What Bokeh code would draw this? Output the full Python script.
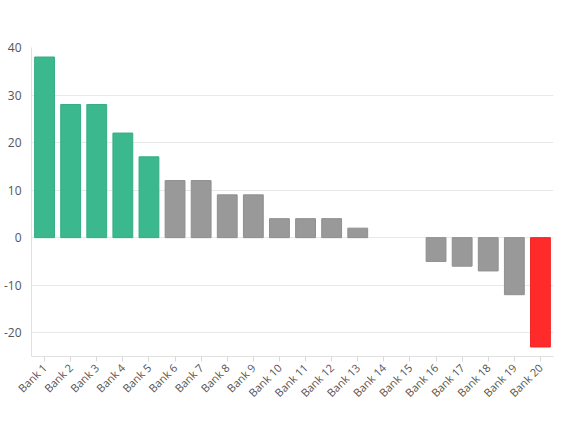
from bokeh.plotting import figure
from bokeh.models import ColumnDataSource, FactorRange, Range1d, FixedTicker
from bokeh.embed import file_html
from bokeh.resources import INLINE
import math

# Data
banks = ["Bank %d" % i for i in range(1, 21)]
values = [38, 28, 28, 22, 17, 12, 12, 9, 9, 4, 4, 4, 2, 0, 0, -5, -6, -7, -12, -23]
green_banks = ["Bank 1", "Bank 2", "Bank 3", "Bank 4", "Bank 5"]
red_banks = ["Bank 20"]
y_ticks = [-20, -10, 0, 10, 20, 30, 40]


def bar_color(bank):
    if bank in green_banks:
        return "#3bb88e"
    if bank in red_banks:
        return "#ff2b2b"
    return "#999999"


def line_color(bank):
    if bank in green_banks:
        return "#34ad84"
    if bank in red_banks:
        return "#f02626"
    return "#8f8f8f"


source = ColumnDataSource(dict(
    bank=banks,
    value=values,
    color=[bar_color(b) for b in banks],
    line=[line_color(b) for b in banks],
    line_alpha=[0 if v == 0 else 1 for v in values],
))

p = figure(
    x_range=FactorRange(*banks, range_padding=0),
    y_range=Range1d(-25, 40),
    width=563,
    height=408,
    output_backend="svg",
    toolbar_location=None,
    min_border_top=47,
    min_border_left=24,
    min_border_right=10,
    min_border_bottom=40,
)

p.vbar(x="bank", top="value", bottom=0, width=0.76, source=source,
       fill_color="color", line_color="line", line_alpha="line_alpha",
       line_width=1)

p.outline_line_color = None
p.background_fill_color = "white"
p.border_fill_color = "white"

# grid
p.xgrid.grid_line_color = None
p.ygrid.grid_line_color = "#e8e8e8"
p.ygrid.ticker = FixedTicker(ticks=y_ticks)

# y axis
p.yaxis.ticker = FixedTicker(ticks=y_ticks)
p.yaxis.major_label_overrides = {t: str(t) for t in y_ticks}
p.yaxis.axis_line_color = "#e0e0e0"
p.yaxis.major_tick_line_color = None
p.yaxis.minor_tick_line_color = None
p.yaxis.major_label_text_color = "#555555"
p.yaxis.major_label_text_font = "Open Sans"
p.yaxis.major_label_text_font_size = "12px"
p.yaxis.major_label_standoff = 4

# x axis
p.xaxis.axis_line_color = "#e0e0e0"
p.xaxis.major_tick_line_color = "#d8d8d8"
p.xaxis.major_tick_in = 0
p.xaxis.major_tick_out = 5
p.xaxis.major_label_orientation = math.pi / 4
p.xaxis.major_label_text_color = "#555555"
p.xaxis.major_label_text_font = "Open Sans"
p.xaxis.major_label_text_font_size = "11px"
p.xaxis.major_label_standoff = 4

open("out.html", "w").write(file_html(p, INLINE))
